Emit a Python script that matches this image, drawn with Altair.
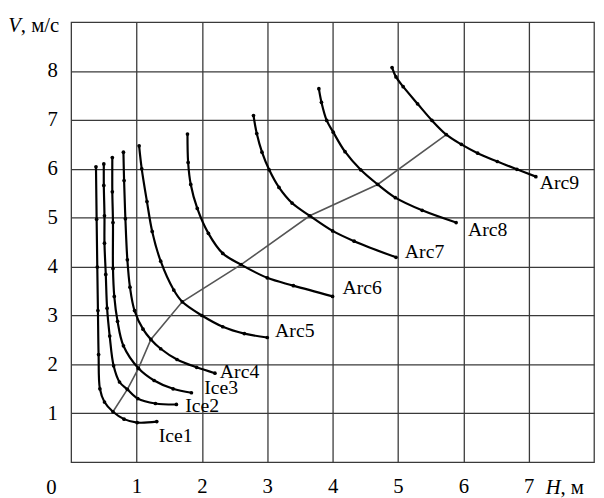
import altair as alt
import pandas as pd

# ---- data (H, m ; V, m/s) ----
ice1_h = [0.38, 0.39, 0.40, 0.41, 0.42, 0.44, 0.51, 0.64, 0.81, 1.01, 1.31]
ice1_v = [6.04, 4.97, 3.99, 3.10, 2.20, 1.50, 1.23, 1.03, 0.88, 0.81, 0.83]

ice2_h = [0.50, 0.50, 0.51, 0.51, 0.53, 0.55, 0.59, 0.65, 0.74, 0.86, 1.02, 1.29, 1.61]
ice2_v = [6.10, 5.66, 5.04, 4.48, 3.84, 3.15, 2.58, 1.97, 1.64, 1.49, 1.30, 1.20, 1.18]

ice3_h = [0.63, 0.63, 0.64, 0.64, 0.66, 0.71, 0.80, 1.03, 1.27, 1.56, 1.84]
ice3_v = [6.23, 5.53, 4.90, 3.96, 3.39, 2.88, 2.38, 1.92, 1.67, 1.50, 1.42]

arc4_h = [0.80, 0.81, 0.83, 0.86, 0.90, 0.97, 1.10, 1.22, 1.37, 1.62, 1.92, 2.20]
arc4_v = [6.34, 5.76, 4.98, 4.14, 3.58, 3.10, 2.72, 2.51, 2.32, 2.10, 1.94, 1.82]

arc5_h = [1.04, 1.08, 1.16, 1.24, 1.37, 1.57, 1.70, 2.00, 2.32, 2.65, 3.00]
arc5_v = [6.47, 6.00, 5.33, 4.72, 4.11, 3.52, 3.28, 3.00, 2.77, 2.63, 2.55]

arc6_h = [1.78, 1.79, 1.83, 1.93, 2.10, 2.32, 2.60, 3.00, 3.40, 4.00]
arc6_v = [6.71, 6.13, 5.68, 5.19, 4.68, 4.27, 4.04, 3.77, 3.61, 3.39]

arc7_h = [2.79, 2.84, 2.92, 3.03, 3.18, 3.38, 3.65, 4.00, 4.33, 4.97]
arc7_v = [7.09, 6.72, 6.34, 5.98, 5.62, 5.30, 5.04, 4.73, 4.52, 4.19]

arc8_h = [3.79, 3.83, 3.91, 4.01, 4.19, 4.43, 4.69, 4.96, 5.37, 5.89]
arc8_v = [7.64, 7.36, 6.99, 6.75, 6.35, 5.98, 5.68, 5.41, 5.15, 4.90]

arc9_h = [4.91, 4.97, 5.08, 5.30, 5.52, 5.74, 5.97, 6.22, 6.52, 6.82, 7.11]
arc9_v = [8.07, 7.88, 7.68, 7.33, 6.99, 6.70, 6.50, 6.32, 6.15, 5.99, 5.84]

# grey line through the intersection points
link_h = [0.64, 0.86, 1.03, 1.22, 1.70, 2.60, 3.65, 4.69, 5.74]
link_v = [1.03, 1.49, 1.92, 2.51, 3.28, 4.04, 5.04, 5.68, 6.70]

curve_names = ["Ice1", "Ice2", "Ice3", "Arc4", "Arc5", "Arc6", "Arc7", "Arc8", "Arc9"]
curve_h = [ice1_h, ice2_h, ice3_h, arc4_h, arc5_h, arc6_h, arc7_h, arc8_h, arc9_h]
curve_v = [ice1_v, ice2_v, ice3_v, arc4_v, arc5_v, arc6_v, arc7_v, arc8_v, arc9_v]

x_ticks = [1, 2, 3, 4, 5, 6, 7]
y_ticks = [1, 2, 3, 4, 5, 6, 7, 8]

# label offsets (pixels) relative to the curve end
label_dx = [2, 9, 13, 5, 8, 10, 9, 12, 4]
label_dy = [15, 2, -5, -1, -6, -8, -5, 8, 7]

# ---- tables ----
rows = []
for name, hs, vs in zip(curve_names, curve_h, curve_v):
    for i, (h, v) in enumerate(zip(hs, vs)):
        rows.append({"curve": name, "idx": i, "H": h, "V": v})
df = pd.DataFrame(rows)
link_df = pd.DataFrame({"H": link_h, "V": link_v, "idx": list(range(len(link_h)))})

SERIF = "Liberation Serif"
GRID = "#3a3a3a"
FS = 21

xscale = alt.Scale(domain=[0, 8], nice=False, zero=False)
yscale = alt.Scale(domain=[0, 9], nice=False, zero=False)
xaxis = alt.Axis(values=x_ticks, title=None, grid=True, gridColor=GRID, gridWidth=1.3,
                 gridOpacity=1, domain=False, ticks=False, tickSize=0, labelPadding=25,
                 labelBaseline="middle", labelFont=SERIF, labelFontSize=FS,
                 labelColor="black", labelAngle=0)
yaxis = alt.Axis(values=y_ticks, title=None, grid=True, gridColor=GRID, gridWidth=1.3,
                 gridOpacity=1, domain=False, ticks=False, tickSize=0, labelPadding=14,
                 labelFont=SERIF, labelFontSize=FS, labelColor="black")


def X():
    return alt.X("H:Q", scale=xscale, axis=xaxis)


def Y():
    return alt.Y("V:Q", scale=yscale, axis=yaxis)


lines = alt.Chart(df).mark_line(color="black", strokeWidth=2.2,
                                interpolate="catmull-rom").encode(
    x=X(), y=Y(), detail="curve:N", order="idx:Q")
dots = alt.Chart(df).mark_circle(color="black", size=14, opacity=1).encode(x=X(), y=Y())
link = alt.Chart(link_df).mark_line(color="#555555", strokeWidth=1.6).encode(
    x=X(), y=Y(), order="idx:Q")

label_layers = []
for name, hs, vs, dx, dy in zip(curve_names, curve_h, curve_v, label_dx, label_dy):
    ldf = pd.DataFrame({"H": [hs[-1]], "V": [vs[-1]], "t": [name]})
    label_layers.append(
        alt.Chart(ldf).mark_text(align="left", baseline="middle", dx=dx, dy=dy,
                                 font=SERIF, fontSize=20, color="black").encode(
            x=X(), y=Y(), text="t:N"))


def note(txt, px, py, align, italic=False):
    return alt.Chart(pd.DataFrame({"t": [txt]})).mark_text(
        align=align, baseline="alphabetic", font=SERIF, fontSize=FS, color="black",
        fontStyle="italic" if italic else "normal").encode(
        x=alt.value(px), y=alt.value(py), text="t:N")


notes = [
    note("V", -51, 10, "right", italic=True),
    note(", м/с", -51, 10, "left"),
    note("0", -20, 478, "center"),
    note("H", 481, 478, "left", italic=True),
    note(", м", 496, 478, "left"),
]

chart = alt.layer(link, lines, dots, *label_layers, *notes).properties(
    width=530, height=446,
    autosize=alt.AutoSizeParams(type="none"),
    padding={"left": 64, "top": 11, "right": 2, "bottom": 33},
    background="white",
).configure_view(stroke=GRID, strokeWidth=1.3)

chart.save("out.html", embed_options={"renderer": "svg", "actions": False})
